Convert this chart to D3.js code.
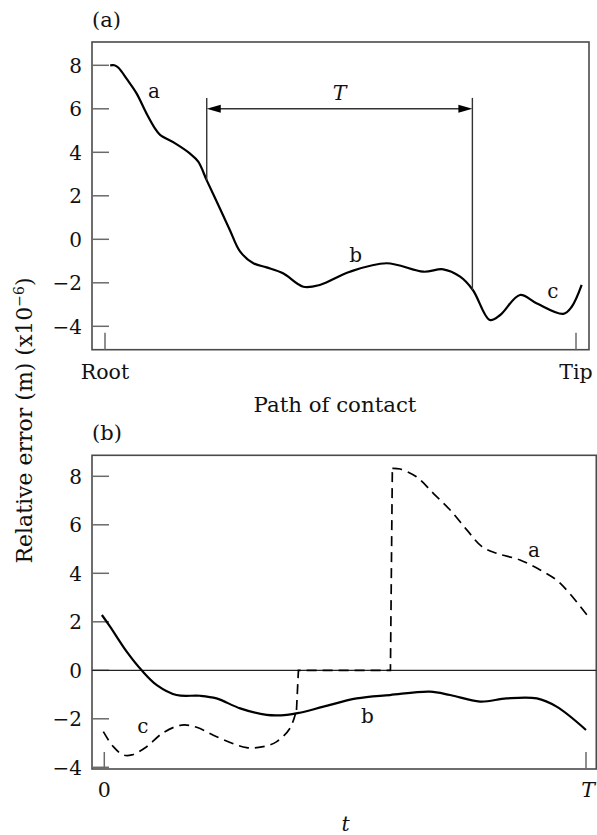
<!DOCTYPE html>
<html>
<head>
<meta charset="utf-8">
<script src="https://cdn.jsdelivr.net/npm/d3@7"></script>
<style>
	body { margin: 0; background: #fff; }
	svg text { font-family: "DejaVu Serif", serif; fill: #111; }
</style>
</head>
<body>
<svg id="chart" width="597" height="835"></svg>
<script>
// ---- data ----
// panel (a): position along path of contact, 0 = root, 100 = tip
var pathPos = [1.1, 2.0, 2.8, 4.7, 6.7, 8.8, 10.6, 11.7, 14.9, 18.0, 19.8, 21.6, 24.4, 26.5, 28.7, 31.5, 34.3, 37.8, 42.1, 45.6, 52.0, 59.8, 67.6, 71.8, 75.4, 78.1, 81.7, 83.9, 88.1, 91.6, 97.3, 99.1, 101.2];
var errA    = [8.0, 8.0, 7.9, 7.35, 6.71, 5.79, 5.10, 4.80, 4.41, 3.95, 3.57, 2.71, 1.42, 0.43, -0.57, -1.10, -1.29, -1.56, -2.18, -2.10, -1.49, -1.10, -1.49, -1.38, -1.72, -2.33, -3.71, -3.48, -2.56, -2.94, -3.43, -3.10, -2.10];
var yTicks = [-4, -2, 0, 2, 4, 6, 8];
var xTicksA = [{v: 0, label: "Root"}, {v: 100, label: "Tip"}];
// period T bracket: start / end on path, bottom of each leg, arrow level, top of legs
var bracketPos = [21.6, 78.0];
var bracketFoot = [2.71, -2.33];
var bracketArrow = 6.0;
var bracketTop = 6.5;
var curveLabelsA = [{t: 10.4, v: 6.73, s: "a"}, {t: 53.2, v: -0.73, s: "b"}, {t: 95.1, v: -2.46, s: "c"}];

// panel (b): t from 0 to T (0..100)
var tB   = [-0.5, 1.2, 4.65, 7.76, 10.9, 15.0, 19.9, 23.3, 28.2, 33.7, 37.9, 40.6, 45.5, 52.4, 59.3, 67.6, 71.8, 78.0, 83.5, 89.8, 93.9, 100];
var errB = [2.28, 1.80, 0.77, 0, -0.61, -1.02, -1.05, -1.16, -1.57, -1.84, -1.84, -1.75, -1.50, -1.16, -1.02, -0.88, -1.02, -1.29, -1.16, -1.16, -1.50, -2.46];
var tC   = [-0.2, 1.87, 3.94, 5.69, 8.8, 12.25, 16.07, 19.18, 23.33, 29.56, 33.0, 35.8, 38.55, 39.9];
var errC = [-2.53, -3.15, -3.49, -3.49, -3.15, -2.57, -2.26, -2.35, -2.74, -3.19, -3.15, -2.94, -2.39, -1.64];
// jump from end of c to zero, along zero, then up to start of a
var tJump   = [39.9, 40.3, 59.4, 59.8];
var errJump = [-1.64, 0, 0, 8.33];
var tA   = [59.8, 61.4, 64.8, 68.3, 71.8, 75.3, 78.4, 81.5, 86.3, 90.5, 93.9, 96.3, 100.5];
var errAB = [8.33, 8.30, 7.98, 7.30, 6.61, 5.78, 5.10, 4.82, 4.55, 4.14, 3.72, 3.24, 2.21];
var xTicksB = [{v: 0, label: "0", it: false}, {v: 100, label: "T", it: true}];
var curveLabelsB = [{t: 89.2, v: 4.89, s: "a"}, {t: 54.6, v: -1.88, s: "b"}, {t: 8.0, v: -2.35, s: "c"}];

(function(){
	'use strict'
	var svg = d3.select("#chart");
	var frameCol = "#4a4a4a", tickCol = "#6a6a6a", tickLen = 17;

	function zip(xs, ys){
		return xs.map(function(x, i){ return [x, ys[i]]; });
	}

	// panel frame + y ticks (inward) + y tick labels
	function drawFrame(box, y){
		svg.append("rect")
			.attr("x", box.l).attr("y", box.t)
			.attr("width", box.r - box.l).attr("height", box.b - box.t)
			.attr("fill", "none")
			.attr("stroke", frameCol)
			.attr("stroke-width", 1.6);
		var g = svg.append("g");
		yTicks.forEach(function(v){
			g.append("line")
				.attr("x1", box.l).attr("x2", box.l + tickLen)
				.attr("y1", y(v)).attr("y2", y(v))
				.attr("stroke", tickCol).attr("stroke-width", 1.5);
			g.append("text")
				.attr("x", box.l - 10).attr("y", y(v))
				.attr("dy", "0.36em")
				.attr("text-anchor", "end")
				.style("font-size", "20px")
				.text(v < 0 ? "\u2212" + Math.abs(v) : v);
		});
	}

	function xTick(box, x, v){
		svg.append("line")
			.attr("x1", x(v)).attr("x2", x(v))
			.attr("y1", box.b).attr("y2", box.b - tickLen)
			.attr("stroke", tickCol).attr("stroke-width", 1.5);
	}

	// letters are centred on their ink, b has an ascender
	function curveLabels(list, x, y){
		list.forEach(function(d){
			svg.append("text")
				.attr("x", x(d.t)).attr("y", y(d.v))
				.attr("dy", d.s === "b" ? "0.36em" : "0.27em")
				.attr("text-anchor", "middle")
				.style("font-size", "20px")
				.text(d.s);
		});
	}

	// ---------- panel (a) ----------
	var boxA = {l: 92, r: 589, t: 42, b: 349.7};
	var xA = d3.scaleLinear().domain([0, 100]).range([105, 576]);
	var yA = d3.scaleLinear().domain([-4, 8]).range([326.3, 65.3]);
	drawFrame(boxA, yA);

	xTicksA.forEach(function(d){
		xTick(boxA, xA, d.v);
		svg.append("text")
			.attr("x", xA(d.v)).attr("y", 379)
			.attr("text-anchor", "middle")
			.style("font-size", "20.5px")
			.text(d.label);
	});

	var lineA = d3.line()
		.x(function(d){ return xA(d[0]); })
		.y(function(d){ return yA(d[1]); })
		.curve(d3.curveCatmullRom.alpha(0.5));
	svg.append("path")
		.datum(zip(pathPos, errA))
		.attr("d", lineA)
		.attr("fill", "none")
		.attr("stroke", "#000")
		.attr("stroke-width", 2.2);

	// T bracket
	var br = svg.append("g").attr("stroke", "#333").attr("stroke-width", 1.4);
	bracketPos.forEach(function(p, i){
		br.append("line")
			.attr("x1", xA(p)).attr("x2", xA(p))
			.attr("y1", yA(bracketTop)).attr("y2", yA(bracketFoot[i]));
	});
	br.append("line")
		.attr("x1", xA(bracketPos[0]) + 10).attr("x2", xA(bracketPos[1]) - 10)
		.attr("y1", yA(bracketArrow)).attr("y2", yA(bracketArrow));
	// arrow heads
	var ay = yA(bracketArrow);
	[[xA(bracketPos[0]), 1], [xA(bracketPos[1]), -1]].forEach(function(a){
		svg.append("path")
			.attr("d", "M" + a[0] + "," + ay + "L" + (a[0] + 14 * a[1]) + "," + (ay - 4) + "L" + (a[0] + 14 * a[1]) + "," + (ay + 4) + "Z")
			.attr("fill", "#000");
	});
	svg.append("text")
		.attr("x", xA((bracketPos[0] + bracketPos[1]) / 2)).attr("y", 100)
		.attr("text-anchor", "middle")
		.style("font-size", "20.5px")
		.style("font-style", "italic")
		.text("T");

	curveLabels(curveLabelsA, xA, yA);

	svg.append("text").attr("x", 92).attr("y", 27).style("font-size", "21px").text("(a)");
	svg.append("text")
		.attr("x", 335).attr("y", 412)
		.attr("text-anchor", "middle")
		.style("font-size", "21.3px")
		.text("Path of contact");

	// ---------- panel (b) ----------
	var boxB = {l: 92, r: 596.3, t: 455.3, b: 769};
	var xB = d3.scaleLinear().domain([0, 100]).range([104.3, 586]);
	var yB = d3.scaleLinear().domain([-4, 8]).range([767.3, 476.3]);
	drawFrame(boxB, yB);

	// zero line
	svg.append("line")
		.attr("x1", boxB.l).attr("x2", boxB.r)
		.attr("y1", yB(0)).attr("y2", yB(0))
		.attr("stroke", "#222").attr("stroke-width", 1.3);

	xTicksB.forEach(function(d){
		xTick(boxB, xB, d.v);
		svg.append("text")
			.attr("x", xB(d.v) + (d.it ? 2 : 0)).attr("y", 797)
			.attr("text-anchor", "middle")
			.style("font-size", "20.5px")
			.style("font-style", d.it ? "italic" : "normal")
			.text(d.label);
	});

	var lineB = d3.line()
		.x(function(d){ return xB(d[0]); })
		.y(function(d){ return yB(d[1]); })
		.curve(d3.curveCatmullRom.alpha(0.5));
	var lineJump = d3.line()
		.x(function(d){ return xB(d[0]); })
		.y(function(d){ return yB(d[1]); });

	svg.append("path")
		.datum(zip(tB, errB))
		.attr("d", lineB)
		.attr("fill", "none")
		.attr("stroke", "#000")
		.attr("stroke-width", 2.2);

	[[zip(tC, errC), lineB], [zip(tJump, errJump), lineJump], [zip(tA, errAB), lineB]].forEach(function(s){
		svg.append("path")
			.datum(s[0])
			.attr("d", s[1])
			.attr("fill", "none")
			.attr("stroke", "#000")
			.attr("stroke-width", 1.7)
			.attr("stroke-dasharray", "10,6");
	});

	curveLabels(curveLabelsB, xB, yB);

	svg.append("text").attr("x", 92).attr("y", 440).style("font-size", "21px").text("(b)");
	svg.append("text")
		.attr("x", 345.5).attr("y", 831)
		.attr("text-anchor", "middle")
		.style("font-size", "20.5px")
		.style("font-style", "italic")
		.text("t");

	// shared y label
	var yl = svg.append("text")
		.attr("transform", "translate(32,420.5) rotate(-90)")
		.attr("text-anchor", "middle")
		.style("font-size", "22px");
	yl.append("tspan").text("Relative error (m) (x10");
	yl.append("tspan").attr("dy", -8).style("font-size", "14px").text("\u22126");
	yl.append("tspan").attr("dy", 8).text(")");
})();
</script>
</body>
</html>
